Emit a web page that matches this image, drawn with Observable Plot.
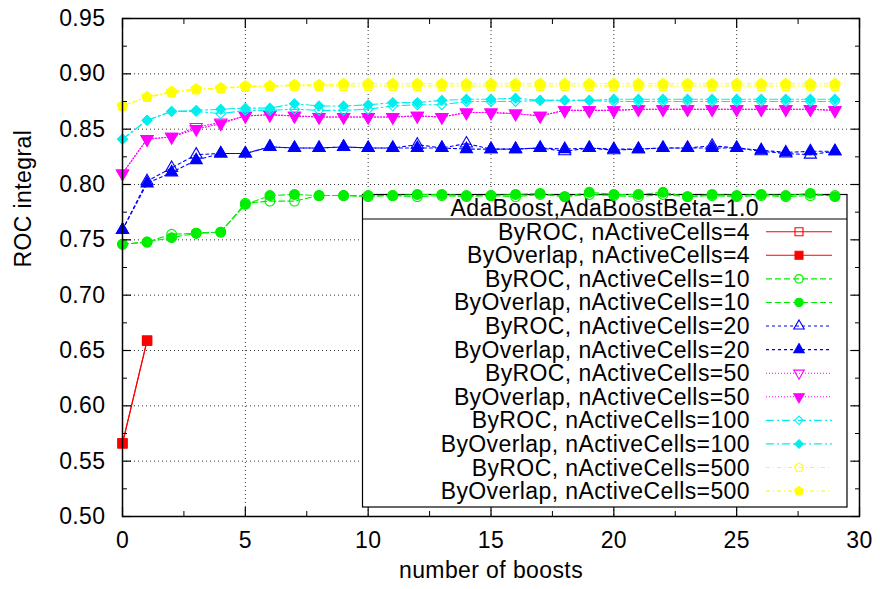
<!DOCTYPE html>
<html>
<head>
<meta charset="utf-8">
<script src="https://cdn.jsdelivr.net/npm/d3@7"></script>
<script src="https://cdn.jsdelivr.net/npm/@observablehq/plot@0.6"></script>
<style>
  body { margin: 0; background: #fff; }
  #chart { width: 880px; height: 589px; }
</style>
</head>
<body>
<div id="chart"></div>
<script>
// ---------- data ----------
const boosts = [0,1,2,3,4,5,6,7,8,9,10,11,12,13,14,15,16,17,18,19,20,21,22,23,24,25,26,27,28,29];

const rocCells4     = [0.566, 0.659];
const overlapCells4 = [0.566, 0.659];

const rocCells10 = [0.746,0.748,0.755,0.756,0.757,0.783,0.785,0.785,0.790,0.790,
                    0.789,0.790,0.789,0.790,0.789,0.790,0.789,0.791,0.789,0.791,
                    0.790,0.789,0.791,0.789,0.790,0.789,0.790,0.789,0.790,0.790];
const overlapCells10 = [0.746,0.748,0.752,0.756,0.757,0.782,0.790,0.791,0.790,0.790,
                        0.790,0.790,0.791,0.791,0.790,0.790,0.791,0.792,0.789,0.793,
                        0.791,0.791,0.793,0.789,0.791,0.790,0.791,0.790,0.792,0.789];

const rocCells20 = [0.759,0.803,0.815,0.827,0.828,0.828,0.834,0.833,0.833,0.834,
                    0.833,0.833,0.836,0.833,0.837,0.832,0.832,0.833,0.830,0.833,
                    0.831,0.832,0.833,0.833,0.835,0.833,0.830,0.828,0.827,0.830];
const overlapCells20 = [0.759,0.801,0.811,0.822,0.828,0.828,0.834,0.833,0.833,0.834,
                        0.833,0.833,0.833,0.833,0.832,0.832,0.832,0.833,0.832,0.833,
                        0.832,0.832,0.833,0.833,0.833,0.833,0.831,0.829,0.830,0.830];

const rocCells50 = [0.810,0.841,0.843,0.852,0.856,0.862,0.863,0.862,0.861,0.861,
                    0.861,0.861,0.862,0.861,0.865,0.865,0.864,0.862,0.867,0.867,
                    0.867,0.868,0.868,0.868,0.868,0.868,0.868,0.868,0.868,0.867];
const overlapCells50 = [0.810,0.841,0.843,0.850,0.855,0.862,0.863,0.862,0.861,0.861,
                        0.861,0.861,0.862,0.861,0.865,0.865,0.864,0.862,0.867,0.867,
                        0.867,0.868,0.868,0.868,0.868,0.868,0.868,0.868,0.868,0.867];

const rocCells100 = [0.841,0.858,0.866,0.866,0.864,0.867,0.867,0.868,0.867,0.867,
                     0.868,0.871,0.872,0.872,0.875,0.875,0.875,0.876,0.876,0.876,
                     0.875,0.875,0.875,0.875,0.875,0.875,0.875,0.875,0.875,0.875];
const overlapCells100 = [0.841,0.858,0.866,0.867,0.868,0.869,0.869,0.873,0.871,0.871,
                         0.872,0.874,0.874,0.876,0.877,0.877,0.878,0.876,0.876,0.876,
                         0.877,0.877,0.877,0.877,0.877,0.877,0.877,0.877,0.877,0.877];

const rocCells500 = [0.871,0.879,0.884,0.886,0.887,0.888,0.889,0.889,0.889,0.889,
                     0.889,0.889,0.889,0.889,0.889,0.889,0.889,0.889,0.889,0.889,
                     0.889,0.889,0.889,0.889,0.889,0.889,0.889,0.889,0.889,0.889];
const overlapCells500 = [0.871,0.879,0.883,0.886,0.887,0.889,0.889,0.890,0.890,0.891,
                         0.891,0.891,0.891,0.891,0.891,0.891,0.891,0.891,0.891,0.891,
                         0.891,0.891,0.891,0.891,0.891,0.891,0.891,0.891,0.891,0.891];

const seriesNames = [
  "ByROC, nActiveCells=4", "ByOverlap, nActiveCells=4",
  "ByROC, nActiveCells=10", "ByOverlap, nActiveCells=10",
  "ByROC, nActiveCells=20", "ByOverlap, nActiveCells=20",
  "ByROC, nActiveCells=50", "ByOverlap, nActiveCells=50",
  "ByROC, nActiveCells=100", "ByOverlap, nActiveCells=100",
  "ByROC, nActiveCells=500", "ByOverlap, nActiveCells=500"
];
const seriesValues = [
  rocCells4, overlapCells4, rocCells10, overlapCells10, rocCells20, overlapCells20,
  rocCells50, overlapCells50, rocCells100, overlapCells100, rocCells500, overlapCells500
];
const legendTitle = "AdaBoost,AdaBoostBeta=1.0";
const xLabel = "number of boosts";
const yLabel = "ROC integral";

const xMajorTicks = [0, 5, 10, 15, 20, 25, 30];
const xMinorTicks = [2.5, 7.5, 12.5, 17.5, 22.5, 27.5];
const yMajorTicks = [0.50, 0.55, 0.60, 0.65, 0.70, 0.75, 0.80, 0.85, 0.90, 0.95];
const yMinorTicks = [0.525, 0.575, 0.625, 0.675, 0.725, 0.775, 0.825, 0.875, 0.925];

// ---------- styles ----------
const sqrt3 = Math.sqrt(3);
const symTriDown = {
  draw(ctx, size) {
    const y = -Math.sqrt(size / (sqrt3 * 3));
    ctx.moveTo(0, -y * 2);
    ctx.lineTo(-sqrt3 * y, y);
    ctx.lineTo(sqrt3 * y, y);
    ctx.closePath();
  }
};
const symPentagon = {
  draw(ctx, size) {
    const R = Math.sqrt(size / (2.5 * Math.sin(2 * Math.PI / 5)));
    for (let k = 0; k < 5; k++) {
      const a = -Math.PI / 2 + k * 2 * Math.PI / 5;
      const px = R * Math.cos(a), py = R * Math.sin(a);
      if (k === 0) ctx.moveTo(px, py); else ctx.lineTo(px, py);
    }
    ctx.closePath();
  }
};
const groupStyles = [
  {color: "#ff0000", dash: null,        sym: d3.symbolSquare,   r: 5.2},
  {color: "#00ee00", dash: "6,3",       sym: d3.symbolCircle,   r: 4.9},
  {color: "#0000ff", dash: "3,3",       sym: d3.symbolTriangle, r: 4.5},
  {color: "#ff00ff", dash: "1,2",       sym: symTriDown,        r: 4.5},
  {color: "#00eeee", dash: "8,3,2,3",   sym: d3.symbolDiamond2, r: 4.4},
  {color: "#ffff00", dash: "4,3,1,3",   sym: symPentagon,       r: 4.7}
];
const styleOf = i => ({...groupStyles[Math.floor(i / 2)], filled: i % 2 === 1});

// ---------- marks ----------
const seriesMarks = [];
seriesNames.forEach((name, i) => {
  const st = styleOf(i);
  const rows = seriesValues[i].map((v, j) => ({boost: boosts[j], roc: v}));
  seriesMarks.push(Plot.line(rows, {
    x: "boost", y: "roc", stroke: st.color, strokeWidth: 1.1,
    strokeDasharray: st.dash
  }));
  seriesMarks.push(Plot.dot(rows, {
    x: "boost", y: "roc", symbol: st.sym, r: st.r,
    fill: st.filled ? st.color : "none", stroke: st.color, strokeWidth: 1.1
  }));
});

const gridStyle = {stroke: "#333", strokeOpacity: 1, strokeWidth: 1, strokeDasharray: "1,3"};

const chart = Plot.plot({
  width: 880,
  height: 589,
  marginLeft: 122,
  marginRight: 21,
  marginTop: 18,
  marginBottom: 73,
  style: "font-family: 'Liberation Sans', Arial, sans-serif; font-size: 23px; letter-spacing: 0.4px; background: white; color: black;",
  x: {domain: [0, 30], label: null},
  y: {domain: [0.5, 0.95], label: null},
  marks: [
    Plot.gridX(xMajorTicks, gridStyle),
    Plot.gridY(yMajorTicks, gridStyle),
    ...seriesMarks,
    Plot.axisX(xMajorTicks, {anchor: "bottom", tickSize: -9, tickPadding: 24, tickFormat: d => String(d), label: null, strokeWidth: 1.2}),
    Plot.axisX(xMinorTicks, {anchor: "bottom", tickSize: -5, tickFormat: () => "", label: null}),
    Plot.axisX(xMajorTicks, {anchor: "top", tickSize: -9, tickFormat: () => "", label: null, strokeWidth: 1.2}),
    Plot.axisX(xMinorTicks, {anchor: "top", tickSize: -5, tickFormat: () => "", label: null}),
    Plot.axisY(yMajorTicks, {anchor: "left", tickSize: -9, tickPadding: 26, tickFormat: d3.format(".2f"), label: null, strokeWidth: 1.2}),
    Plot.axisY(yMinorTicks, {anchor: "left", tickSize: -5, tickFormat: () => "", label: null}),
    Plot.axisY(yMajorTicks, {anchor: "right", tickSize: -9, tickFormat: () => "", label: null, strokeWidth: 1.2}),
    Plot.axisY(yMinorTicks, {anchor: "right", tickSize: -5, tickFormat: () => "", label: null}),
    Plot.frame({stroke: "black", strokeWidth: 1.5}),
    Plot.text([yLabel], {text: d => d, frameAnchor: "left", dx: -99, rotate: -90, fill: "black"}),
    Plot.text([xLabel], {text: d => d, frameAnchor: "bottom", dy: 61, fill: "black"})
  ]
});

document.getElementById("chart").appendChild(chart);

// ---------- legend (key box), inserted beneath the data ----------
const firstLine = chart.querySelector('[aria-label="line"]');
const legendNode = document.createElementNS("http://www.w3.org/2000/svg", "g");
chart.insertBefore(legendNode, firstLine);
const lg = d3.select(legendNode).attr("aria-label", "legend");
const boxL = 362.5, boxR = 847, boxT = 194.5, boxB = 507, headB = 219;
lg.append("rect").attr("x", boxL).attr("y", boxT).attr("width", boxR - boxL).attr("height", boxB - boxT)
  .attr("fill", "white").attr("stroke", "black").attr("stroke-width", 1.2);
lg.append("line").attr("x1", boxL).attr("x2", boxR).attr("y1", headB).attr("y2", headB)
  .attr("stroke", "black").attr("stroke-width", 1.2);
lg.append("text").attr("x", (boxL + boxR) / 2).attr("y", (boxT + headB) / 2 + 1)
  .attr("text-anchor", "middle").attr("dy", "0.35em").attr("fill", "black").text(legendTitle);
seriesNames.forEach((name, i) => {
  const st = styleOf(i);
  const y = 231.7 + i * 23.58;
  lg.append("text").attr("x", 750).attr("y", y).attr("dy", "0.35em")
    .attr("text-anchor", "end").attr("fill", "black").text(name);
  lg.append("line").attr("x1", 766).attr("x2", 832).attr("y1", y).attr("y2", y)
    .attr("stroke", st.color).attr("stroke-width", 1.1)
    .attr("stroke-dasharray", st.dash);
  lg.append("path").attr("transform", `translate(799,${y})`)
    .attr("d", d3.symbol(st.sym, st.r * st.r * Math.PI * 0.75)())
    .attr("fill", st.filled ? st.color : "none").attr("stroke", st.color).attr("stroke-width", 1.1);
});
</script>
</body>
</html>
